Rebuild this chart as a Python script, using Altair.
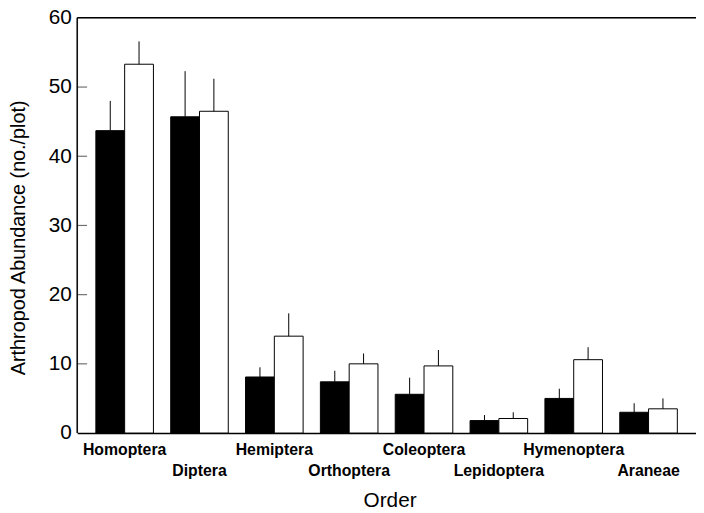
import altair as alt
import pandas as pd

orders = ["Homoptera", "Diptera", "Hemiptera", "Orthoptera", "Coleoptera",
          "Lepidoptera", "Hymenoptera", "Araneae"]
black_mean = [43.7, 45.7, 8.1, 7.4, 5.6, 1.8, 5.0, 3.0]
black_upper = [48.0, 52.3, 9.5, 9.0, 8.0, 2.6, 6.4, 4.3]
white_mean = [53.3, 46.5, 14.0, 10.0, 9.7, 2.1, 10.6, 3.5]
white_upper = [56.6, 51.2, 17.3, 11.5, 12.0, 3.0, 12.4, 5.0]
y_ticks = [0, 10, 20, 30, 40, 50, 60]
lower_row = ["Diptera", "Orthoptera", "Lepidoptera", "Araneae"]

rows = []
for i, o in enumerate(orders):
    rows.append({"order": o, "group": "a", "value": black_mean[i], "upper": black_upper[i]})
    rows.append({"order": o, "group": "b", "value": white_mean[i], "upper": white_upper[i]})
df = pd.DataFrame(rows)
frame_df = pd.DataFrame({"k": [0]})
tick_df = pd.DataFrame({"value": y_ticks[1:-1]})

FONT = "Liberation Sans"
W, H = 626, 420
TICK = 10

label_expr = "indexof(%s, datum.value) >= 0 ? ['', datum.label] : datum.label" % (
    "[" + ",".join("'%s'" % s for s in lower_row) + "]")

x_enc = alt.X("order:N", sort=orders,
              scale=alt.Scale(paddingInner=0, paddingOuter=0.134),
              axis=alt.Axis(title="Order", labelAngle=0, ticks=False, domain=True,
                            domainColor="black", domainWidth=1.5,
                            labelFont=FONT, labelFontSize=16, labelFontWeight="bold",
                            labelColor="black", labelPadding=9, labelLineHeight=21,
                            labelExpr=label_expr,
                            titleFont=FONT, titleFontSize=21, titleFontWeight="normal",
                            titleColor="black", titleX=316, titleY=68,
                            titleBaseline="middle"))
xoff = alt.XOffset("group:N", scale=alt.Scale(paddingInner=0, paddingOuter=0.3))
y_scale = alt.Scale(domain=[0, 60], nice=False)
y_axis = alt.Axis(values=y_ticks, ticks=False, grid=False, domain=False,
                  labelFont=FONT, labelFontSize=21, labelColor="black",
                  labelPadding=6,
                  title="Arthropod Abundance (no./plot)",
                  titleFont=FONT, titleFontSize=20, titleFontWeight="normal",
                  titleColor="black", titleX=-59, titleY=222,
                  titleAngle=-90, titleAlign="center", titleBaseline="middle")

base = alt.Chart(df).encode(x=x_enc, xOffset=xoff)

bars = base.mark_bar(stroke="black", strokeWidth=1).encode(
    y=alt.Y("value:Q", scale=y_scale, axis=y_axis),
    fill=alt.Fill("group:N", scale=alt.Scale(domain=["a", "b"], range=["black", "white"]),
                  legend=None),
)
err = base.mark_rule(color="black", strokeWidth=1).encode(
    y=alt.Y("value:Q", scale=y_scale, axis=None), y2="upper:Q")

# inward ticks on the left frame line
ticks = alt.Chart(tick_df).mark_tick(color="#333333", thickness=1.2, size=TICK,
                                     orient="horizontal").encode(
    y=alt.Y("value:Q", scale=y_scale, axis=None), x=alt.value(TICK / 2))

top = alt.Chart(frame_df).mark_rule(color="black", strokeWidth=1.5).encode(
    y=alt.value(0), x=alt.value(0), x2=alt.value(W))
left = alt.Chart(frame_df).mark_rule(color="black", strokeWidth=1.5).encode(
    x=alt.value(0), y=alt.value(0), y2=alt.value(H))

chart = alt.layer(bars, err, ticks, top, left).resolve_axis(y="independent").properties(
    width=W, height=H,
    autosize=alt.AutoSizeParams(type="none"),
    padding={"left": 70, "top": 7, "right": 0, "bottom": 85},
).configure_view(stroke=None).configure(background="white")

chart.save("out.html", embed_options={"renderer": "svg", "actions": False})
